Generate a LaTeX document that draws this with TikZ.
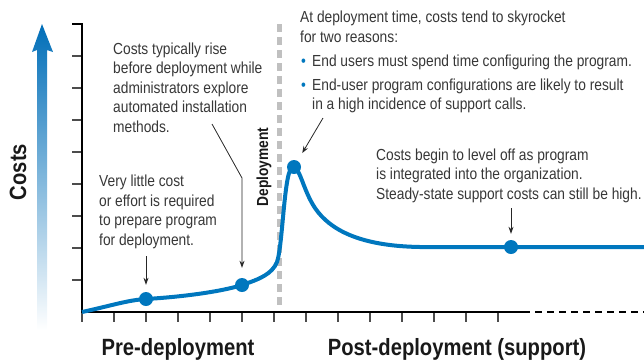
\documentclass[tikz,border=0pt]{standalone}
\usepackage{fontspec}
\setmainfont{Liberation Sans}[FakeStretch=0.86]
\usetikzlibrary{arrows.meta}
\definecolor{cblue}{RGB}{0,119,190}
\definecolor{arrowblue}{RGB}{0,110,184}
\definecolor{dgray}{RGB}{192,192,192}
\definecolor{txt}{RGB}{55,55,55}
\begin{document}
\begin{tikzpicture}[x=1pt,y=-1pt,
  note/.style={font=\fontsize{16}{19.5}\selectfont, text=txt, align=left, inner sep=0pt, anchor=base west},
  dot/.style={circle, fill=cblue, minimum size=14pt, inner sep=0pt},
  pointer/.style={draw=black!85, line width=0.8pt, -{Stealth[length=7pt,width=5pt]}},
  axis/.style={line width=2pt, black},
  tickmark/.style={line width=1.5pt, black!70},
  big/.style={font=\fontsize{23.5}{26}\selectfont\bfseries, text=black!90, inner sep=0pt}]
\useasboundingbox (0,0) rectangle (644,360);

% gradient arrow
\shade[top color=arrowblue, bottom color=white] (37,330) -- (37,50) -- (32,52) -- (42,24) -- (53,52) -- (47,50) -- (47,330) -- cycle;
\node[big, rotate=90] (costs) at (18,172) {Costs};

% axes
\draw[tickmark] \foreach \y in {56,88,...,280} {(72,\y) -- (82,\y)};
\draw[tickmark] \foreach \x in {82,114,...,498} {(\x,312) -- (\x,322)};
\draw[axis] (72,24) -- (82,24) -- (82,312) -- (523,312);
\draw[axis, dash pattern=on 7pt off 5pt] (523,312) -- (644,312);

% deployment line
\draw[dgray, line width=5pt, dash pattern=on 8pt off 5pt] (279,24) -- (279,306);
\node[font=\fontsize{16}{18}\selectfont\bfseries, text=black!90, rotate=90, anchor=base, inner sep=0pt] (dep) at (268,167) {Deployment};

% curve
\draw[cblue, line width=4pt] (82,312) .. controls (110,306) and (128,300) .. (146,299)
  .. controls (180,297) and (220,292) .. (242,285)
  .. controls (260,279) and (272,274) .. (277,262)
  .. controls (283,245) and (284,167) .. (293,167)
  .. controls (300,167) and (303,190) .. (315,208)
  .. controls (330,230) and (360,246) .. (420,247) -- (644,247);

\node[dot] (d1) at (146,299) {};
\node[dot] (d2) at (242,285) {};
\node[dot] (d3) at (294,167) {};
\node[dot] (d4) at (511,247) {};

% notes (anchored at the baseline of their last line)
\node[note] (n1) at (113,132) {Costs typically rise\\before deployment while\\administrators explore\\automated installation\\methods.};
\node[note] (n2) at (99,245) {Very little cost\\or effort is required\\to prepare program\\for deployment.};
\node[note] (n3) at (300,109.5) {At deployment time, costs tend to skyrocket\\for two reasons:\\[4.5pt]
  \makebox[12pt][l]{\hspace*{1pt}\textcolor{cblue}{\textbullet}}End users must spend time configuring the program.\\[4.5pt]
  \makebox[12pt][l]{\hspace*{1pt}\textcolor{cblue}{\textbullet}}End-user program configurations are likely to result\\
  \hspace*{12pt}in a high incidence of support calls.};
\node[note] (n4) at (376,199) {Costs begin to level off as program\\is integrated into the organization.\\Steady-state support costs can still be high.};

% pointers
\coordinate (p1) at (146,256);
\coordinate (p2a) at (212,124);
\coordinate (p2b) at (242,178);
\coordinate (p3) at (323,118);
\coordinate (p4) at (511,208);
\draw[pointer, shorten >=7pt] (p1) -- (d1);
\draw[pointer, shorten >=10pt] (p2a) -- (p2b) -- (d2);
\draw[pointer, shorten >=9pt] (p3) -- (d3);
\draw[pointer, shorten >=6pt] (p4) -- (d4);

% axis labels
\node[big, anchor=base] (pre) at (178,355) {Pre-deployment};
\node[big, anchor=base] (post) at (457,355) {Post-deployment (support)};
\end{tikzpicture}
\end{document}
